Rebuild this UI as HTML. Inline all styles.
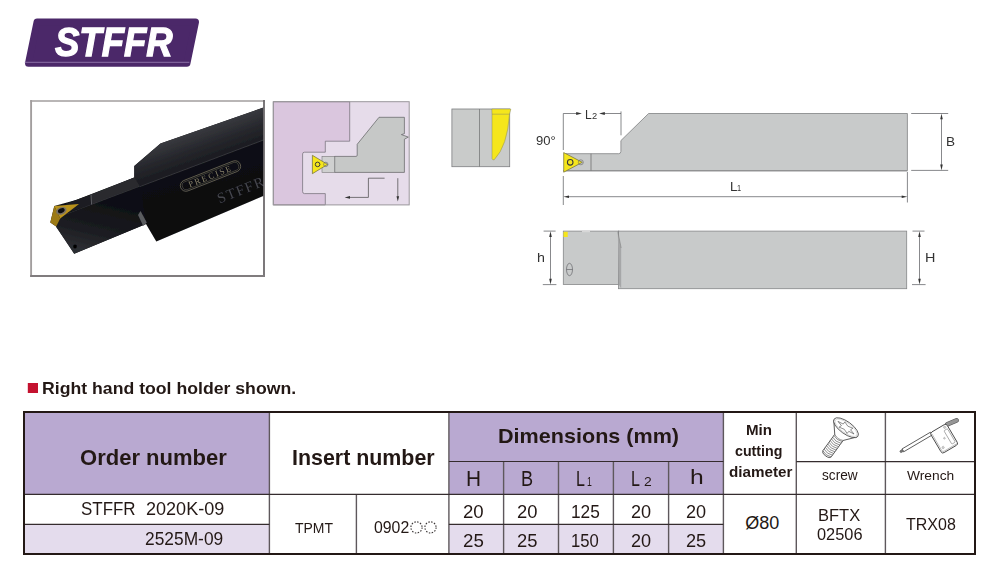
<!DOCTYPE html>
<html lang="en"><head><meta charset="utf-8"><title>STFFR tool holder</title>
<style>
html,body{margin:0;padding:0;background:#fff;}
body{width:1000px;height:577px;position:relative;overflow:hidden;font-family:"Liberation Sans",sans-serif;}
.t{position:absolute;line-height:1;white-space:pre;transform-origin:0 0;font-family:"Liberation Sans",sans-serif;}
#g{position:absolute;left:0;top:0;}
.b{position:absolute;}
</style></head><body>
<svg id="g" width="1000" height="577" viewBox="0 0 1000 577">
<defs>
<linearGradient id="side" x1="0" y1="0" x2="0.35" y2="1"><stop offset="0" stop-color="#17181d"/><stop offset="1" stop-color="#07080c"/></linearGradient>
<linearGradient id="topf" gradientUnits="userSpaceOnUse" x1="200" y1="129" x2="211" y2="160"><stop offset="0" stop-color="#393a3f"/><stop offset="0.5" stop-color="#27282d"/><stop offset="1" stop-color="#1a1b20"/></linearGradient>
<linearGradient id="neck" gradientUnits="userSpaceOnUse" x1="100" y1="200" x2="88" y2="250"><stop offset="0" stop-color="#0f1014"/><stop offset="0.6" stop-color="#1b1c21"/><stop offset="1" stop-color="#2c2d31"/></linearGradient>
<filter id="soft" x="-5%" y="-5%" width="110%" height="110%"><feGaussianBlur stdDeviation="0.45"/></filter>
<clipPath id="pc"><rect x="32" y="101.7" width="231.2" height="173.4"/></clipPath>
</defs>
<!-- logo -->
<polygon points="37.05,22 195.5,22 186.95,63.2 28.5,63.2" fill="#4b2869" stroke="#4b2869" stroke-width="7" stroke-linejoin="round"/>
<line x1="24.6" y1="62.3" x2="189.4" y2="62.3" stroke="#a890c0" stroke-width="0.7"/>
<!-- red bullet -->
<rect x="27.8" y="383" width="10.2" height="10" fill="#c4122f"/>
<!-- photo frame -->
<g stroke-linecap="square"><line x1="31.1" y1="101" x2="31.1" y2="276" stroke="#a29e9e" stroke-width="1.9"/>
<line x1="31.1" y1="100.95" x2="264" y2="100.95" stroke="#a29e9e" stroke-width="1.6"/>
<line x1="264" y1="101" x2="264" y2="276" stroke="#6e6a6c" stroke-width="1.8"/>
<line x1="31.1" y1="276" x2="264" y2="276" stroke="#807c7e" stroke-width="1.8"/></g>
<g clip-path="url(#pc)"><g filter="url(#soft)">
 <!-- silhouette -->
 <path d="M265,107 L160.5,143.5 L134.3,166 L134.3,177.5 L76,200 L54.3,206 L50.3,222.6 L56.2,226.6 L74.2,253.7 L146,224 L156.3,241.5 L265,195.2 Z" fill="url(#side)"/>
 <!-- top face of body -->
 <path d="M265,107 L160.5,143.5 L134.3,166 L134.3,177.5 L100,192 L100,201.6 L265,139.4 Z" fill="url(#topf)"/>
 <!-- neck top -->
 <path d="M134.3,177.5 L91,194.5 L91.5,205 L140,186.5 Z" fill="#2a2b2f"/>
 <path d="M91,194.5 L66.4,203.4 L62,214 L91.5,205 Z" fill="#1b1c20"/>
 <line x1="91" y1="194.5" x2="91.6" y2="205" stroke="#6d6e72" stroke-width="0.8"/>
 <line x1="265" y1="139.4" x2="60" y2="216.7" stroke="#3d3e44" stroke-width="0.8"/>
 <!-- neck side lighter -->
 <path d="M60,216.7 L140,186.5 L146,224 L74.2,253.7 L56,226.8 Z" fill="url(#neck)"/>
 <path d="M140.5,211 L146.8,222.5 L143.2,226 L138,215 Z" fill="#5a5b5f"/>
 <!-- insert -->
 <path d="M54.3,206 L60.2,218.4 L56.2,226.6 L50.3,222.6 Z" fill="#9c7a17"/>
 <path d="M54.3,206 L79,203.9 L60.2,218.6 Z" fill="#b8921f"/>
 <ellipse cx="61.3" cy="210.8" rx="5.4" ry="3.6" transform="rotate(-22 61.3 210.8)" fill="#7a7264"/>
 <ellipse cx="61.3" cy="210.6" rx="3.5" ry="2.2" transform="rotate(-22 61.3 210.6)" fill="#0c0b0b"/>
 <circle cx="75" cy="246.5" r="2" fill="#050506"/>
 <!-- engraving -->
 <g transform="translate(210.5 176) rotate(-21.5)" fill="none" stroke="#7d7764" stroke-width="0.65">
  <rect x="-32" y="-5.6" width="64" height="11.2" rx="5.6"/>
  <rect x="-30" y="-4.1" width="60" height="8.2" rx="4.1" stroke-width="0.4"/>
 </g>
 <text transform="translate(210.5 176) rotate(-21.5)" x="0" y="2.9" text-anchor="middle" font-family="Liberation Serif,serif" font-size="8.6" letter-spacing="1.8" fill="#8a836c">PRECISE</text>
 <text transform="translate(219.5 203.5) rotate(-21.5)" x="0" y="0" font-family="Liberation Serif,serif" font-size="14.6" letter-spacing="1.5" fill="#46474d">STFFR</text>
</g></g>
<!-- purple schematic -->
<rect x="273.3" y="101.7" width="135.9" height="103.2" fill="#e6dcea"/>
<path d="M273.3,101.7 L349.7,101.7 L349.7,141.2 L325.3,141.2 L325.3,152.2 L304.5,152.2 Q302.6,152.2 302.6,154 L302.6,191.6 Q302.6,193.6 304.5,193.6 L325.3,193.6 L325.3,204.9 L273.3,204.9 Z" fill="#dac6de" stroke="#6e6a72" stroke-width="0.7"/>
<path d="M334.7,156.4 L356,156.4 Q357.2,156.4 357.2,155.2 L357.2,144.3 L379,117.3 L404.4,117.3 L404.4,133.7 L401.4,134.6 L408.4,137.1 L404.4,139.2 L404.4,172.4 L334.7,172.4 Z" fill="#c6c8c7" stroke="#5f6062" stroke-width="0.7"/>
<rect x="322" y="156.4" width="12.7" height="16" fill="#cfd0d0" stroke="#77787a" stroke-width="0.6"/>
<polygon points="312.4,155.3 312.4,173.7 327.6,164.4" fill="#f5e61c" stroke="#6b6a3a" stroke-width="0.7" stroke-linejoin="round"/>
<circle cx="325.8" cy="164.4" r="2.2" fill="none" stroke="#666" stroke-width="0.6"/>
<circle cx="317.6" cy="164.4" r="2.3" fill="#f5e61c" stroke="#3a3a3a" stroke-width="1"/>
<path d="M384.6,178.2 L368.4,178.2 L368.4,197.4 L349,197.4" fill="none" stroke="#444" stroke-width="0.7"/>
<polygon points="344.6,197.4 350,196 350,198.8" fill="#333"/>
<line x1="397.8" y1="178.2" x2="397.8" y2="197" stroke="#444" stroke-width="0.7"/>
<polygon points="397.8,201.4 396.5,196.2 399.1,196.2" fill="#333"/>
<rect x="273.3" y="101.7" width="135.9" height="103.2" fill="none" stroke="#9a979c" stroke-width="1"/>
<!-- small end view -->
<rect x="451.9" y="109" width="57.8" height="57.7" fill="#c9cbca" stroke="#7d7e80" stroke-width="0.8"/>
<line x1="479.5" y1="109" x2="479.5" y2="166.7" stroke="#77787a" stroke-width="0.8"/>
<path d="M491.8,109 L510.8,109 L509.5,114.2 Q507.5,146 494.2,159.8 Q492.6,160.4 492,158.6 L492,114.2 Z" fill="#f5e61c" stroke="#8a8a60" stroke-width="0.5"/>
<line x1="492" y1="114.2" x2="509.5" y2="114.2" stroke="#8a8a60" stroke-width="0.5"/>
<!-- top view -->
<path d="M648.6,113.5 L907.4,113.5 L907.4,170.6 L566,170.6 L566,153.7 L618.6,153.7 Q620.9,153.7 620.9,151.4 L620.9,140.6 Z" fill="#c8caca" stroke="#808183" stroke-width="0.8"/>
<line x1="563" y1="170.9" x2="907.4" y2="170.9" stroke="#8a8b8c" stroke-width="1"/>
<line x1="591" y1="153.7" x2="591" y2="170.6" stroke="#666" stroke-width="0.7"/>
<polygon points="563.7,152.6 563.7,172.2 582.3,162.3" fill="#f5e61c" stroke="#6b6a3a" stroke-width="0.7" stroke-linejoin="round"/>
<circle cx="580.8" cy="162.3" r="2.5" fill="none" stroke="#666" stroke-width="0.6"/>
<circle cx="570.2" cy="162.3" r="2.8" fill="#f5e61c" stroke="#3a3a3a" stroke-width="1.1"/>
<g stroke="#55565a" stroke-width="0.7" fill="none">
 <path d="M563.3,150 L563.3,113.5 L577,113.5"/>
 <path d="M604,113.5 L621,113.5 M621,111.4 L621,135.3"/>
 <path d="M563.3,176 L563.3,205 M907.4,172 L907.4,202.5 M567,196.7 L903.5,196.7"/>
 <path d="M911.2,113.5 L948.2,113.5 M911.2,170.4 L948.2,170.4 M941.5,118 L941.5,166"/>
 <path d="M543.6,231.1 L555.6,231.1 M542.8,284.6 L556.4,284.6 M550.5,236 L550.5,280"/>
 <path d="M912.5,231.1 L924.5,231.1 M912,284.6 L925.6,284.6 M919.5,236 L919.5,280"/>
</g>
<g fill="#333">
 <polygon points="581.9,113.5 576.2,112.1 576.2,114.9"/>
 <polygon points="599.1,113.5 604.8,112.1 604.8,114.9"/>
 <polygon points="563.4,196.7 569,195.4 569,198"/>
 <polygon points="907.3,196.7 901.7,195.4 901.7,198"/>
 <polygon points="941.5,113.7 940.2,119.3 942.8,119.3"/>
 <polygon points="941.5,170.2 940.2,164.6 942.8,164.6"/>
 <polygon points="550.5,231.3 549.2,237 551.8,237"/>
 <polygon points="550.5,284.4 549.2,278.7 551.8,278.7"/>
 <polygon points="919.5,231.3 918.2,237 920.8,237"/>
 <polygon points="919.5,284.4 918.2,278.7 920.8,278.7"/>
</g>
<!-- side view -->
<rect x="563.3" y="231.1" width="55.5" height="53.3" fill="#c8caca" stroke="#858688" stroke-width="0.8"/>
<rect x="618.6" y="231.1" width="288.1" height="57.6" fill="#c8caca" stroke="#858688" stroke-width="0.8"/>
<polygon points="617.8,231.5 621.2,248 621.2,288.4 618.8,284.6" fill="#a6a7a8"/>
<line x1="617.8" y1="231.5" x2="621.2" y2="248" stroke="#777" stroke-width="0.5"/>
<rect x="563.5" y="231.8" width="4.2" height="5.2" fill="#f5e61c"/>
<line x1="582" y1="231.6" x2="590" y2="231.6" stroke="#e8e8e8" stroke-width="0.8"/>
<ellipse cx="569.5" cy="269.5" rx="3" ry="6.2" fill="none" stroke="#55565a" stroke-width="0.6"/>
<line x1="566.5" y1="269.5" x2="572.5" y2="269.5" stroke="#55565a" stroke-width="0.6"/>
<!-- dotted circles -->
<circle cx="416.5" cy="527.4" r="5.6" fill="none" stroke="#3a3535" stroke-width="1.1" stroke-dasharray="1.5 1.43"/>
<circle cx="430.5" cy="527.4" r="5.6" fill="none" stroke="#3a3535" stroke-width="1.1" stroke-dasharray="1.5 1.43"/>
<!-- screw icon -->
<g transform="translate(846 427.7) rotate(36)" fill="none" stroke="#3a3a3a" stroke-width="0.75" stroke-linejoin="round">
 <path d="M-14.4,1 L-5.2,12 L-5.2,32.2 Q-5.2,34.6 0,34.9 Q5.2,34.6 5.2,32.2 L5.2,12 L14.4,1" fill="#fff"/>
 <path d="M-5.2,12 Q0,14.6 5.2,12" stroke-width="0.5"/>
 <g stroke-width="0.6" stroke="#555"><path d="M-5.2,13.4 Q0,15.8 5.2,13.4"/><path d="M-5.2,15.5 Q0,17.9 5.2,15.5"/><path d="M-5.2,17.6 Q0,20.0 5.2,17.6"/><path d="M-5.2,19.7 Q0,22.1 5.2,19.7"/><path d="M-5.2,21.8 Q0,24.2 5.2,21.8"/><path d="M-5.2,23.9 Q0,26.3 5.2,23.9"/><path d="M-5.2,26.0 Q0,28.4 5.2,26.0"/><path d="M-5.2,28.1 Q0,30.5 5.2,28.1"/><path d="M-5.2,30.2 Q0,32.6 5.2,30.2"/><path d="M-5.2,32.3 Q0,34.7 5.2,32.3"/></g>
 <ellipse rx="14.7" ry="6.1" fill="#fff"/>
 <ellipse rx="13.2" ry="5" stroke-width="0.35" stroke="#999"/>
 <path d="M10.2,0.4 L4.4,1.3 L4.3,4.0 L-0.5,2.3 L-5.9,3.6 L-4.9,1.0 L-10.2,-0.4 L-4.4,-1.3 L-4.3,-4.0 L0.5,-2.3 L5.9,-3.6 L4.9,-1.0 Z" stroke-width="0.6" stroke="#555"/>
</g>
<!-- wrench icon -->
<line x1="947.2" y1="424.4" x2="956.6" y2="420.4" stroke="#555" stroke-width="4.7" stroke-linecap="round"/>
<line x1="947.2" y1="424.4" x2="956.6" y2="420.4" stroke="#969696" stroke-width="3.4" stroke-linecap="round"/>
<g transform="translate(943.9 438.2) rotate(-30.5)" fill="none" stroke="#3f3f3f" stroke-width="0.75" stroke-linejoin="round">
 <rect x="-41.6" y="-12" width="33" height="3.3" fill="#fff"/>
 <rect x="-44.6" y="-11.4" width="3.2" height="2.1" rx="0.6" fill="#777" stroke="#555" stroke-width="0.6"/>
 <rect x="-9.4" y="-11.5" width="18.8" height="24" rx="2.3" fill="#fff" stroke-width="0.85"/>
 <path d="M-8.1,-9.5 L-8.1,9.6 Q-8.1,11.3 -6.4,11.3 L8.2,11.3" stroke="#777" stroke-width="0.45"/>
 <rect x="3.8" y="-6.4" width="4.1" height="15.6" rx="1" stroke="#666" stroke-width="0.5"/>
 <circle cx="6.2" cy="-9" r="1.2" fill="#d2d2d2" stroke="#8a8a8a" stroke-width="0.35"/>
 <circle cx="0.4" cy="0.3" r="0.9" fill="#d2d2d2" stroke="#8a8a8a" stroke-width="0.35"/>
 <circle cx="-5.4" cy="7.6" r="1.2" fill="#d2d2d2" stroke="#8a8a8a" stroke-width="0.35"/>
</g>
</svg>

<div id="tbl">
<div class="b" style="left:24px;top:412px;width:245.4px;height:82.4px;background:#b9a9d1"></div>
<div class="b" style="left:449px;top:412px;width:274.4px;height:82.4px;background:#b9a9d1"></div>
<div class="b" style="left:24px;top:524.4px;width:245.4px;height:30px;background:#e4dced"></div>
<div class="b" style="left:449px;top:524.4px;width:274.4px;height:30px;background:#e4dced"></div>
<svg class="b" style="left:0;top:0" width="1000" height="577" viewBox="0 0 1000 577">
<g stroke="#5e585c" stroke-width="1.4">
<line x1="269.4" y1="412" x2="269.4" y2="554"/>
<line x1="356.4" y1="494.4" x2="356.4" y2="554"/>
<line x1="448.9" y1="412" x2="448.9" y2="554"/>
<line x1="503.6" y1="461.5" x2="503.6" y2="554"/>
<line x1="558.5" y1="461.5" x2="558.5" y2="554"/>
<line x1="613.4" y1="461.5" x2="613.4" y2="554"/>
<line x1="668.6" y1="461.5" x2="668.6" y2="554"/>
<line x1="723.4" y1="412" x2="723.4" y2="554"/>
<line x1="796.3" y1="412" x2="796.3" y2="554"/>
<line x1="885.4" y1="412" x2="885.4" y2="554"/>
</g>
<g stroke="#352c2e" stroke-width="1.1">
<line x1="448.9" y1="461.5" x2="723.4" y2="461.5"/>
<line x1="796.3" y1="461.6" x2="975" y2="461.6"/>
<line x1="24" y1="494.4" x2="975" y2="494.4"/>
<line x1="24" y1="524.4" x2="269.4" y2="524.4"/>
<line x1="448.9" y1="524.4" x2="723.4" y2="524.4"/>
</g>
</svg>
<div class="b" style="left:23px;top:411px;width:949px;height:140.4px;border:2px solid #231815"></div>
</div>

<span class="t" style="left:55.25px;top:22.0px;font-size:40.68px;transform:scaleX(0.8979);color:#fff;font-weight:700;font-style:italic;-webkit-text-stroke:1.3px #fff;">STFFR</span>
<span class="t" style="left:41.62px;top:379.68px;font-size:16.45px;transform:scaleX(1.0746);color:#231815;font-weight:700;">Right hand tool holder shown.</span>
<span class="t" style="left:80.44px;top:447.08px;font-size:22.12px;transform:scaleX(0.9959);color:#231815;font-weight:700;">Order number</span>
<span class="t" style="left:291.68px;top:446.95px;font-size:21.84px;transform:scaleX(0.9802);color:#231815;font-weight:700;">Insert number</span>
<span class="t" style="left:498.45px;top:424.52px;font-size:21.08px;transform:scaleX(1.0238);color:#231815;font-weight:700;">Dimensions (mm)</span>
<span class="t" style="left:465.57px;top:467.75px;font-size:21.16px;transform:scaleX(0.9861);color:#231815;">H</span>
<span class="t" style="left:521.24px;top:467.75px;font-size:21.16px;transform:scaleX(0.8574);color:#231815;">B</span>
<span class="t" style="left:576.46px;top:467.54px;font-size:21.16px;transform:scaleX(0.7585);color:#231815;">L</span>
<span class="t" style="left:587.26px;top:475.96px;font-size:12.3px;transform:scaleX(0.7089);color:#231815;">1</span>
<span class="t" style="left:631.26px;top:467.54px;font-size:21.16px;transform:scaleX(0.7585);color:#231815;">L</span>
<span class="t" style="left:643.77px;top:477.02px;font-size:11.94px;transform:scaleX(1.1636);color:#231815;">2</span>
<span class="t" style="left:689.72px;top:467.0px;font-size:20.83px;transform:scaleX(1.1831);color:#231815;">h</span>
<span class="t" style="left:745.83px;top:424.3px;font-size:13.74px;transform:scaleX(1.1014);color:#231815;font-weight:700;">Min</span>
<span class="t" style="left:735.09px;top:444.57px;font-size:13.8px;transform:scaleX(1.0314);color:#231815;font-weight:700;">cutting</span>
<span class="t" style="left:729.25px;top:464.73px;font-size:14.47px;transform:scaleX(1.0504);color:#231815;font-weight:700;">diameter</span>
<span class="t" style="left:821.6px;top:467.88px;font-size:14.73px;transform:scaleX(0.9263);color:#231815;">screw</span>
<span class="t" style="left:907.39px;top:468.65px;font-size:13.33px;transform:scaleX(1.0346);color:#231815;">Wrench</span>
<span class="t" style="left:81.2px;top:500.27px;font-size:18.42px;transform:scaleX(0.9205);color:#231815;">STFFR</span>
<span class="t" style="left:146.16px;top:500.27px;font-size:18.42px;transform:scaleX(0.9808);color:#231815;">2020K-09</span>
<span class="t" style="left:145.47px;top:529.88px;font-size:18.5px;transform:scaleX(0.9387);color:#231815;">2525M-09</span>
<span class="t" style="left:295.02px;top:521.29px;font-size:14.3px;transform:scaleX(0.9778);color:#231815;">TPMT</span>
<span class="t" style="left:374.39px;top:519.45px;font-size:16.07px;transform:scaleX(0.9855);color:#231815;">0902</span>
<span class="t" style="left:463.03px;top:503.7px;font-size:17.64px;transform:scaleX(1.0556);color:#231815;">20</span>
<span class="t" style="left:516.87px;top:503.7px;font-size:17.64px;transform:scaleX(1.0444);color:#231815;">20</span>
<span class="t" style="left:571.33px;top:503.7px;font-size:17.64px;transform:scaleX(0.9817);color:#231815;">125</span>
<span class="t" style="left:630.97px;top:503.7px;font-size:17.64px;transform:scaleX(1.0278);color:#231815;">20</span>
<span class="t" style="left:685.77px;top:503.7px;font-size:17.64px;transform:scaleX(1.0278);color:#231815;">20</span>
<span class="t" style="left:462.91px;top:532.9px;font-size:17.64px;transform:scaleX(1.0617);color:#231815;">25</span>
<span class="t" style="left:516.96px;top:532.9px;font-size:17.64px;transform:scaleX(1.0444);color:#231815;">25</span>
<span class="t" style="left:570.64px;top:532.9px;font-size:17.64px;transform:scaleX(0.9455);color:#231815;">150</span>
<span class="t" style="left:630.97px;top:532.9px;font-size:17.64px;transform:scaleX(1.0278);color:#231815;">20</span>
<span class="t" style="left:685.83px;top:532.9px;font-size:17.64px;transform:scaleX(1.0319);color:#231815;">25</span>
<span class="t" style="left:745.36px;top:514.49px;font-size:18.0px;transform:scaleX(1.0);color:#231815;">Ø80</span>
<span class="t" style="left:818.36px;top:507.3px;font-size:16.11px;transform:scaleX(1.0258);color:#231815;">BFTX</span>
<span class="t" style="left:817.03px;top:526.95px;font-size:16.85px;transform:scaleX(0.9714);color:#231815;">02506</span>
<span class="t" style="left:905.99px;top:515.82px;font-size:16.44px;transform:scaleX(0.9731);color:#231815;">TRX08</span>
<span class="t" style="left:536.39px;top:135.3px;font-size:12.6px;transform:scaleX(1.0362);color:#333;">90°</span>
<span class="t" style="left:585.37px;top:107.54px;font-size:13.24px;transform:scaleX(0.9139);color:#333;">L</span>
<span class="t" style="left:591.52px;top:111.57px;font-size:8.85px;transform:scaleX(1.0527);color:#333;">2</span>
<span class="t" style="left:729.55px;top:180.31px;font-size:13.32px;transform:scaleX(0.9936);color:#333;">L</span>
<span class="t" style="left:737.44px;top:184.09px;font-size:8.66px;transform:scaleX(0.8514);color:#333;">1</span>
<span class="t" style="left:946.43px;top:136.27px;font-size:12.51px;transform:scaleX(1.0867);color:#333;">B</span>
<span class="t" style="left:536.82px;top:251.23px;font-size:13.08px;transform:scaleX(1.0898);color:#333;">h</span>
<span class="t" style="left:924.82px;top:252.0px;font-size:12.86px;transform:scaleX(1.12);color:#333;">H</span>
</body></html>
